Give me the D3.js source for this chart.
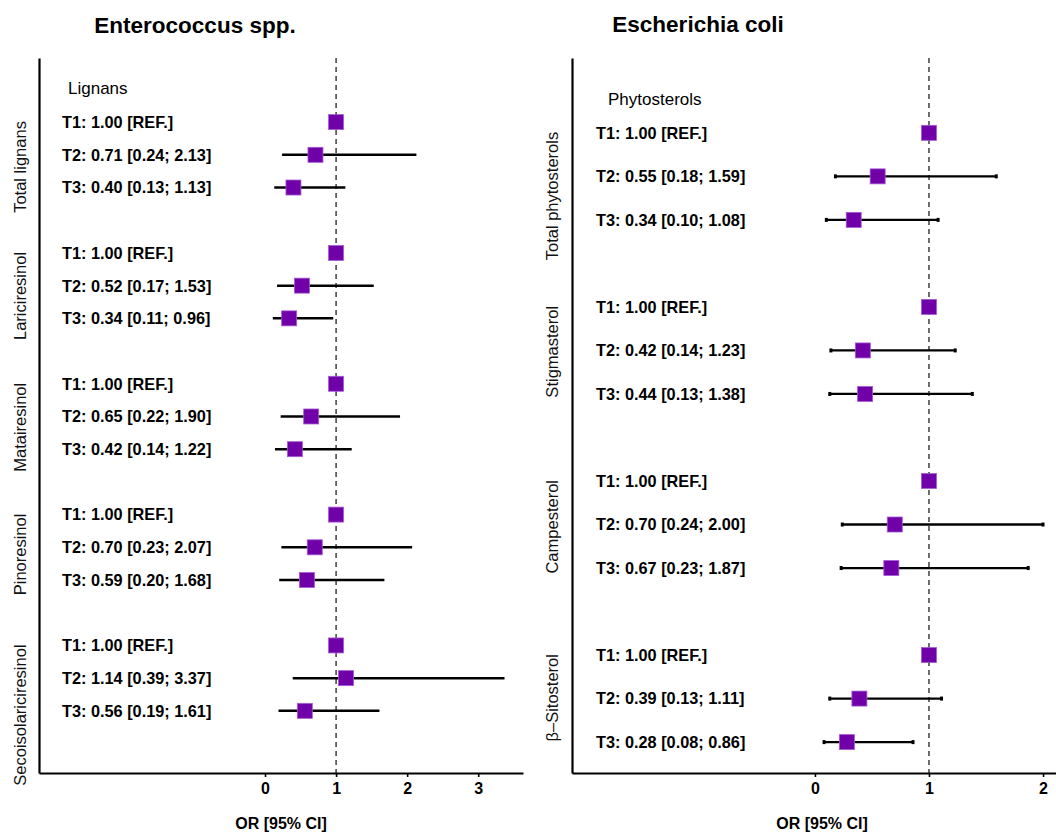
<!DOCTYPE html>
<html>
<head>
<meta charset="utf-8">
<script src="https://cdn.jsdelivr.net/npm/d3@7"></script>
<style>
  body { margin: 0; background: #fff; }
  svg { display: block; font-family: "Liberation Sans", Arial, Helvetica, sans-serif; }
</style>
</head>
<body>
<div id="chart"></div>
<script>
"use strict";

// Enterococcus spp. - lignans
const leftTitle = "Enterococcus spp.";
const leftHeader = "Lignans";
const leftGroups = ["Total lignans", "Lariciresinol", "Matairesinol", "Pinoresinol", "Secoisolariciresinol"];
const leftOR = [[1.00, 0.71, 0.40], [1.00, 0.52, 0.34], [1.00, 0.65, 0.42], [1.00, 0.70, 0.59], [1.00, 1.14, 0.56]];
const leftLo = [[null, 0.24, 0.13], [null, 0.17, 0.11], [null, 0.22, 0.14], [null, 0.23, 0.20], [null, 0.39, 0.19]];
const leftHi = [[null, 2.13, 1.13], [null, 1.53, 0.96], [null, 1.90, 1.22], [null, 2.07, 1.68], [null, 3.37, 1.61]];
const leftTicks = [0, 1, 2, 3];

// Escherichia coli - phytosterols
const rightTitle = "Escherichia coli";
const rightHeader = "Phytosterols";
const rightGroups = ["Total phytosterols", "Stigmasterol", "Campesterol", "\u03b2\u2013Sitosterol"];
const rightOR = [[1.00, 0.55, 0.34], [1.00, 0.42, 0.44], [1.00, 0.70, 0.67], [1.00, 0.39, 0.28]];
const rightLo = [[null, 0.18, 0.10], [null, 0.14, 0.13], [null, 0.24, 0.23], [null, 0.13, 0.08]];
const rightHi = [[null, 1.59, 1.08], [null, 1.23, 1.38], [null, 2.00, 1.87], [null, 1.11, 0.86]];
const rightTicks = [0, 1, 2];

const xTitle = "OR [95% CI]";

const W = 1056, H = 832;
const purple = "#7000a8";

const svg = d3.select("#chart").append("svg")
  .attr("width", W)
  .attr("height", H);

const fmt = d3.format(".2f");

function rowsFrom(groups, or, lo, hi) {
  const rows = [];
  groups.forEach((g, gi) => {
    or[gi].forEach((v, t) => {
      rows.push({
        group: gi,
        tier: t,
        r: 1 + gi * 4 + t,
        or: v,
        lo: lo[gi][t],
        hi: hi[gi][t],
        label: lo[gi][t] == null
          ? `T${t + 1}: ${fmt(v)} [REF.]`
          : `T${t + 1}: ${fmt(v)} [${fmt(lo[gi][t])}; ${fmt(hi[gi][t])}]`
      });
    });
  });
  return rows;
}

const drawPanel = (p) => {
  const g = svg.append("g");
  const rows = rowsFrom(p.groups, p.or, p.lo, p.hi);

  const x = d3.scaleLinear().domain(p.xDomain).range([p.left, p.right]);
  const y = d3.scaleLinear().domain(p.rDomain).range([p.top, p.bottom]);

  // title
  g.append("text")
    .attr("x", p.titleX)
    .attr("y", p.titleY)
    .attr("text-anchor", "middle")
    .attr("font-weight", "bold")
    .attr("font-size", "22.5px")
    .text(p.title);

  // reference line at OR = 1
  g.append("line")
    .attr("x1", x(1)).attr("x2", x(1))
    .attr("y1", p.top).attr("y2", p.bottom)
    .attr("stroke", "#222")
    .attr("stroke-width", 1.3)
    .attr("stroke-dasharray", "5,4");

  // x axis
  const xa = g.append("g")
    .attr("transform", `translate(0,${p.bottom})`)
    .call(d3.axisBottom(x).tickValues(p.ticks).tickSize(4).tickSizeOuter(0).tickFormat(d3.format("d")));
  xa.select(".domain").attr("stroke", "#000").attr("stroke-width", 2.2);
  xa.selectAll(".tick line").attr("stroke", "#000").attr("stroke-width", 1.6);
  xa.selectAll(".tick text")
    .attr("y", 10)
    .attr("font-size", "16px")
    .attr("font-weight", "bold")
    .attr("font-family", "Liberation Sans, Arial, sans-serif")
    .attr("fill", "#000");

  // y axis (line only)
  const ya = g.append("g")
    .attr("transform", `translate(${p.left},0)`)
    .call(d3.axisLeft(y).tickValues([]).tickSizeOuter(0));
  ya.select(".domain").attr("stroke", "#000").attr("stroke-width", 2.2);

  g.append("text")
    .attr("x", (p.left + p.right) / 2)
    .attr("y", 829)
    .attr("text-anchor", "middle")
    .attr("font-weight", "bold")
    .attr("font-size", "16px")
    .text(xTitle);

  // header
  g.append("text")
    .attr("x", p.headerX)
    .attr("y", y(1) - 28)
    .attr("font-size", "17px")
    .text(p.header);

  // group labels, rotated, top aligned with T1 row
  g.selectAll(".glab")
    .data(p.groups)
    .enter()
    .append("text")
    .attr("class", "glab")
    .attr("transform", (d, i) => `translate(${p.groupX},${y(1 + i * 4) - 1}) rotate(-90)`)
    .attr("text-anchor", "end")
    .attr("font-size", "16.5px")
    .attr("fill", "#111")
    .text(d => d);

  // row labels
  g.selectAll(".rlab")
    .data(rows)
    .enter()
    .append("text")
    .attr("class", "rlab")
    .attr("x", p.rowX)
    .attr("y", d => y(d.r))
    .attr("dy", "0.36em")
    .attr("font-size", "16.3px")
    .attr("font-weight", "bold")
    .text(d => d.label);

  const ci = rows.filter(d => d.lo != null);

  g.selectAll(".ci")
    .data(ci)
    .enter()
    .append("line")
    .attr("class", "ci")
    .attr("x1", d => x(d.lo))
    .attr("x2", d => x(d.hi))
    .attr("y1", d => y(d.r))
    .attr("y2", d => y(d.r))
    .attr("stroke", "#000")
    .attr("stroke-width", p.ciWidth);

  if (p.caps) {
    const ends = ci.flatMap(d => [{ v: d.lo, r: d.r }, { v: d.hi, r: d.r }]);
    g.selectAll(".cap")
      .data(ends)
      .enter()
      .append("rect")
      .attr("class", "cap")
      .attr("x", d => x(d.v) - 1.5)
      .attr("y", d => y(d.r) - 2)
      .attr("width", 3)
      .attr("height", 4)
      .attr("fill", "#000");
  }

  const s = 15;
  g.selectAll(".pt")
    .data(rows)
    .enter()
    .append("rect")
    .attr("class", "pt")
    .attr("x", d => x(d.or) - s / 2)
    .attr("y", d => y(d.r) - s / 2)
    .attr("width", s)
    .attr("height", s)
    .attr("fill", purple)
    .attr("stroke", "#a45bd6")
    .attr("stroke-width", 0.8);
};

drawPanel({
  title: leftTitle, titleX: 195, titleY: 33,
  header: leftHeader, headerX: 68,
  groups: leftGroups, or: leftOR, lo: leftLo, hi: leftHi, ticks: leftTicks,
  left: 39, right: 523, top: 58, bottom: 773,
  xDomain: [-3.18, 3.63], rDomain: [-0.96, 20.9],
  groupX: 26, rowX: 62, ciWidth: 2.5, caps: false
});

drawPanel({
  title: rightTitle, titleX: 698, titleY: 32,
  header: rightHeader, headerX: 608,
  groups: rightGroups, or: rightOR, lo: rightLo, hi: rightHi, ticks: rightTicks,
  left: 572, right: 1072, top: 58, bottom: 773,
  xDomain: [-2.13, 2.254], rDomain: [-0.72, 15.71],
  groupX: 558, rowX: 596, ciWidth: 2.3, caps: true
});
</script>
</body>
</html>
